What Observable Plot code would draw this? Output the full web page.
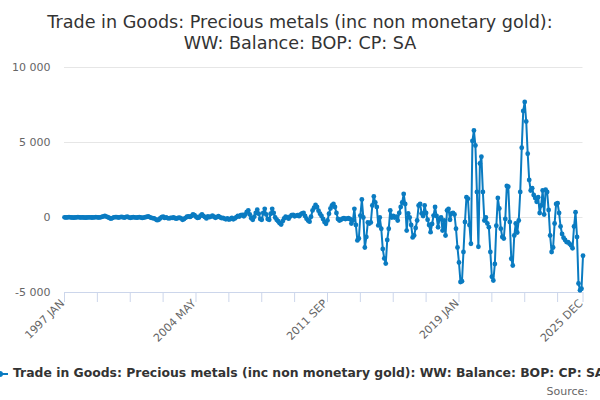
<!DOCTYPE html>
<html><head><meta charset="utf-8">
<script src="https://cdn.jsdelivr.net/npm/d3@7"></script>
<script src="https://cdn.jsdelivr.net/npm/@observablehq/plot@0.6"></script>
<style>
body{margin:0;background:#fff;font-family:"DejaVu Sans",sans-serif;}
#wrap{position:relative;width:600px;height:400px;overflow:hidden;background:#fff;}
#title{position:absolute;top:12px;left:0;width:600px;text-align:center;font-size:17.6px;color:#333;line-height:21px;}
#chart{position:absolute;top:55px;left:0;}
#legend{position:absolute;top:365px;left:-8px;white-space:nowrap;font-size:12.4px;font-weight:bold;color:#333;line-height:16px;}
#legend svg{vertical-align:middle;margin-right:5px;}
#source{position:absolute;top:385px;right:12px;font-size:11px;color:#666;line-height:14px;}
</style></head>
<body>
<div id="wrap">
  <div id="title">Trade in Goods: Precious metals (inc non monetary gold):<br>WW: Balance: BOP: CP: SA</div>
  <div id="chart"></div>
  <div id="legend"></div>
  <div id="source">Source:</div>
</div>
<script>
const seriesName = "Trade in Goods: Precious metals (inc non monetary gold): WW: Balance: BOP: CP: SA";
const startYear = 1997;
const monthNames = ["JAN","FEB","MAR","APR","MAY","JUN","JUL","AUG","SEP","OCT","NOV","DEC"];

// Balance, £ million, monthly from 1997 JAN
const balance1997to2001 = [10,0,10,20,10,0,-10,0,10,20,10,0,10,0,-10,0,10,10,0,0,10,20,10,0,10,
  40,80,100,60,20,-30,-80,-40,10,30,20,
  0,10,40,20,-10,30,50,10,-20,0,20,10,
  -10,0,20,10,-30,-10,20,40,80,30,-20,-40];
const balance2002to2006 = [-60,-120,-180,-150,-60,20,50,-30,10,-40,-60,-20,
  -30,0,-50,-80,-30,-10,-60,-150,-100,-20,50,80,
  40,100,200,150,50,-30,0,120,200,100,30,-60,
  80,20,60,120,50,-20,30,90,20,-40,-20,-80,
  -120,-60,-140,-100,-30,-120,-60,20,100,60,150,180];
const balance2007to2011 = [80,200,380,470,200,-50,-150,50,300,520,250,-100,
  -150,300,580,200,-100,-150,250,580,300,0,-150,-250,
  -380,-470,-250,-60,50,0,-80,60,150,180,80,130,
  150,90,200,280,300,100,-80,-200,-280,50,470,650,
  840,700,450,250,100,-100,-300,-420,-200,250,600,800];
const balance2012to2016 = [900,700,300,-100,-200,-150,-80,-50,-100,-80,-50,-100,
  -400,-200,580,-500,-1530,-1400,130,1200,0,-2000,-1300,-330,
  -400,-330,800,1400,1000,700,-530,0,-750,-2100,-2730,-3070,
  -1500,-750,470,0,100,0,50,-200,300,700,1000,1570,
  900,-870,270,0,-500,-1330,-1200,-700,-200,800,900,270];
const balance2017to2021 = [100,800,300,-150,-500,-980,-430,130,700,100,-650,-100,
  0,-870,-200,-1200,470,570,-150,270,300,200,-750,-2000,
  -3000,-4300,-4250,-2300,-300,1350,1250,-500,-1750,5100,5800,4800,
  1700,-1950,3600,4050,1700,-200,0,-400,-650,-2300,-3950,-4200,
  -3100,-550,1300,600,-750,-1300,-1400,-100,2100,2050,-300,-2750];
const balance2022to2025 = [-3200,-1200,-400,-1000,-200,1700,4650,7100,7700,6400,4250,2500,
  1800,1950,1500,1300,1050,1350,300,800,1800,200,1850,1700,
  500,-1200,-2300,-2000,-400,900,950,300,-600,-1100,-1350,-1500,
  -1640,-1650,-1750,-1860,-2050,-600,350,-1300,-4400,-4850,-4750,-2550];

const yTicks = [-5000, 0, 5000, 10000];
const xTickStep = 22;
const xLabelPositions = [0, 88, 176, 264, 347];
const xTickLabels = ["1997 JAN", "2004 MAY", "2011 SEP", "2019 JAN", "2025 DEC"];

const values = [].concat(balance1997to2001, balance2002to2006, balance2007to2011,
  balance2012to2016, balance2017to2021, balance2022to2025);
const data = values.map((v, i) => ({
  i, v, label: (startYear + Math.floor(i / 12)) + " " + monthNames[i % 12]
}));
const lastIndex = values.length - 1;
const xTickPositions = d3.range(0, lastIndex, xTickStep).concat([lastIndex]);
const color = "#0a7bc1";

const fmt = d => (d < 0 ? "-" : "") + d3.format(",")(Math.abs(d)).replace(/,/g, " ");
const labelFor = d => xTickLabels[xLabelPositions.indexOf(d)] ?? "";

const chart = Plot.plot({
  width: 600,
  height: 300,
  marginTop: 12,
  marginBottom: 63,
  marginLeft: 64,
  marginRight: 17.5,
  style: {fontFamily: "DejaVu Sans, sans-serif", fontSize: "11px", color: "#666", background: "white"},
  x: {type: "linear", domain: [0, lastIndex]},
  y: {domain: [-5000, 10000]},
  marks: [
    Plot.ruleY(yTicks.filter(d => d !== -5000), {stroke: "#e6e6e6"}),
    Plot.ruleY([-5000], {stroke: "#ccd6eb"}),
    Plot.axisY({ticks: yTicks, tickSize: 0, tickPadding: 14, tickFormat: fmt, label: null, fill: "#666"}),
    Plot.axisX({ticks: xTickPositions, tickSize: 10, tickFormat: () => "", stroke: "#ccd6eb", label: null}),
    Plot.axisX({ticks: xLabelPositions, tickSize: 0, tickPadding: 9, dx: -2, tickRotate: -45, tickFormat: labelFor, label: null, fill: "#666"}),
    Plot.line(data, {x: "i", y: "v", stroke: color, strokeWidth: 2}),
    Plot.dot(data, {x: "i", y: "v", r: 2.4, fill: color, stroke: "none"})
  ]
});
document.getElementById("chart").appendChild(chart);

document.getElementById("legend").innerHTML =
  `<svg width="16" height="12"><line x1="0" y1="6" x2="16" y2="6" stroke="${color}" stroke-width="2"/><circle cx="8" cy="6" r="3" fill="${color}"/></svg>` + seriesName;
</script>
</body></html>
